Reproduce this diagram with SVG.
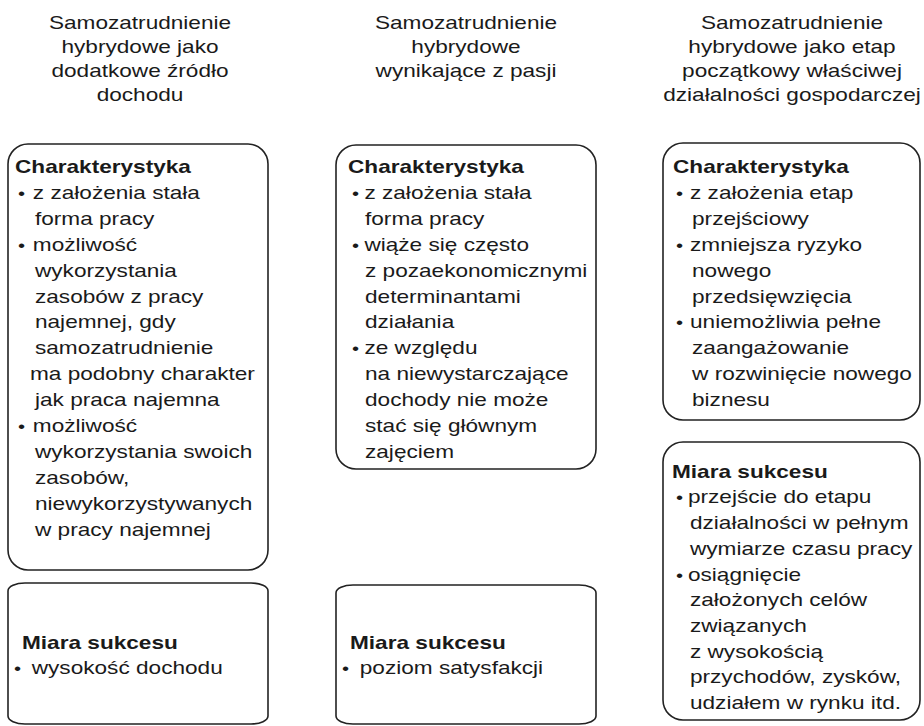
<svg xmlns="http://www.w3.org/2000/svg" width="924" height="726" viewBox="0 0 924 726">
<style>
.box{fill:#fff;stroke:#222;stroke-width:1.6}
.t{font-family:"Liberation Sans",Arial,sans-serif;font-size:19px;fill:#1a1a1a}
.b{font-weight:bold}
.c{text-anchor:middle}
.d{font-size:17px}
</style>
<rect width="924" height="726" fill="#fff"/>
<g id="header1">
<g transform="translate(140,0) scale(1.19,1)">
<text class="t c" x="0" y="29">Samozatrudnienie</text>
<text class="t c" x="0" y="53">hybrydowe jako</text>
<text class="t c" x="0" y="77">dodatkowe źródło</text>
<text class="t c" x="0" y="101">dochodu</text>
</g>
</g>
<g id="header2">
<g transform="translate(466,0) scale(1.19,1)">
<text class="t c" x="0" y="29">Samozatrudnienie</text>
<text class="t c" x="0" y="53">hybrydowe</text>
<text class="t c" x="0" y="77">wynikające z pasji</text>
</g>
</g>
<g id="header3">
<g transform="translate(792,0) scale(1.19,1)">
<text class="t c" x="0" y="29">Samozatrudnienie</text>
<text class="t c" x="0" y="53">hybrydowe jako etap</text>
<text class="t c" x="0" y="77">początkowy właściwej</text>
<text class="t c" x="0" y="101">działalności gospodarczej</text>
</g>
</g>
<g id="char1">
<rect class="box" x="8" y="144" width="260" height="426" rx="20" ry="20"/>
<g transform="translate(15,0) scale(1.19,1)">
<text class="t b" x="0" y="173">Charakterystyka</text>
<text class="t" y="199"><tspan class="d" x="2.5">•</tspan><tspan x="15">z założenia stała</tspan></text>
<text class="t" x="16.8" y="224.9">forma pracy</text>
<text class="t" y="250.8"><tspan class="d" x="2.5">•</tspan><tspan x="15">możliwość</tspan></text>
<text class="t" x="16.8" y="276.7">wykorzystania</text>
<text class="t" x="16.8" y="302.6">zasobów z pracy</text>
<text class="t" x="16.8" y="328.5">najemnej, gdy</text>
<text class="t" x="16.8" y="354.4">samozatrudnienie</text>
<text class="t" x="12.6" y="380.3">ma podobny charakter</text>
<text class="t" x="16.8" y="406.2">jak praca najemna</text>
<text class="t" y="432.1"><tspan class="d" x="2.5">•</tspan><tspan x="15">możliwość</tspan></text>
<text class="t" x="16.8" y="458">wykorzystania swoich</text>
<text class="t" x="16.8" y="483.9">zasobów,</text>
<text class="t" x="16.8" y="509.8">niewykorzystywanych</text>
<text class="t" x="16.8" y="535.7">w pracy najemnej</text>
</g>
</g>
<g id="char2">
<rect class="box" x="336" y="145" width="260" height="324" rx="20" ry="20"/>
<g transform="translate(348,0) scale(1.19,1)">
<text class="t b" x="0" y="173">Charakterystyka</text>
<text class="t" y="199"><tspan class="d" x="3.4">•</tspan><tspan x="13.8">z założenia stała</tspan></text>
<text class="t" x="14.3" y="224.9">forma pracy</text>
<text class="t" y="250.8"><tspan class="d" x="3.4">•</tspan><tspan x="13.8">wiąże się często</tspan></text>
<text class="t" x="14.3" y="276.7">z pozaekonomicznymi</text>
<text class="t" x="14.3" y="302.6">determinantami</text>
<text class="t" x="14.3" y="328.5">działania</text>
<text class="t" y="354.4"><tspan class="d" x="3.4">•</tspan><tspan x="13.8">ze względu</tspan></text>
<text class="t" x="14.3" y="380.3">na niewystarczające</text>
<text class="t" x="14.3" y="406.2">dochody nie może</text>
<text class="t" x="14.3" y="432.1">stać się głównym</text>
<text class="t" x="14.3" y="458">zajęciem</text>
</g>
</g>
<g id="char3">
<rect class="box" x="663" y="143" width="257" height="277" rx="20" ry="20"/>
<g transform="translate(673,0) scale(1.19,1)">
<text class="t b" x="0" y="173">Charakterystyka</text>
<text class="t" y="199"><tspan class="d" x="2.5">•</tspan><tspan x="14.3">z założenia etap</tspan></text>
<text class="t" x="16" y="224.9">przejściowy</text>
<text class="t" y="250.8"><tspan class="d" x="2.5">•</tspan><tspan x="14.3">zmniejsza ryzyko</tspan></text>
<text class="t" x="16" y="276.7">nowego</text>
<text class="t" x="16" y="302.6">przedsięwzięcia</text>
<text class="t" y="328.5"><tspan class="d" x="2.5">•</tspan><tspan x="14.3">uniemożliwia pełne</tspan></text>
<text class="t" x="16" y="354.4">zaangażowanie</text>
<text class="t" x="16" y="380.3">w rozwinięcie nowego</text>
<text class="t" x="16" y="406.2">biznesu</text>
</g>
</g>
<g id="miara1">
<rect class="box" x="8" y="583" width="260" height="141" rx="17" ry="8"/>
<g transform="translate(22,0) scale(1.19,1)">
<text class="t b" x="0" y="649">Miara sukcesu</text>
<text class="t" y="674.5"><tspan class="d" x="-6.7">•</tspan><tspan x="8.2">wysokość dochodu</tspan></text>
</g>
</g>
<g id="miara2">
<rect class="box" x="336" y="585" width="260" height="139" rx="17" ry="8"/>
<g transform="translate(350,0) scale(1.19,1)">
<text class="t b" x="0" y="649">Miara sukcesu</text>
<text class="t" y="674.5"><tspan class="d" x="-6.7">•</tspan><tspan x="8.2">poziom satysfakcji</tspan></text>
</g>
</g>
<g id="miara3">
<rect class="box" x="663" y="442" width="257" height="278" rx="20" ry="20"/>
<g transform="translate(672,0) scale(1.19,1)">
<text class="t b" x="0" y="478">Miara sukcesu</text>
<text class="t" y="503.5"><tspan class="d" x="3.4">•</tspan><tspan x="13.4">przejście do etapu</tspan></text>
<text class="t" x="15.1" y="529.2">działalności w pełnym</text>
<text class="t" x="15.1" y="554.9">wymiarze czasu pracy</text>
<text class="t" y="580.6"><tspan class="d" x="3.4">•</tspan><tspan x="13.4">osiągnięcie</tspan></text>
<text class="t" x="15.1" y="606.3">założonych celów</text>
<text class="t" x="15.1" y="632">związanych</text>
<text class="t" x="15.1" y="657.7">z wysokością</text>
<text class="t" x="15.1" y="683.4">przychodów, zysków,</text>
<text class="t" x="15.1" y="709.1">udziałem w rynku itd.</text>
</g>
</g>
</svg>
